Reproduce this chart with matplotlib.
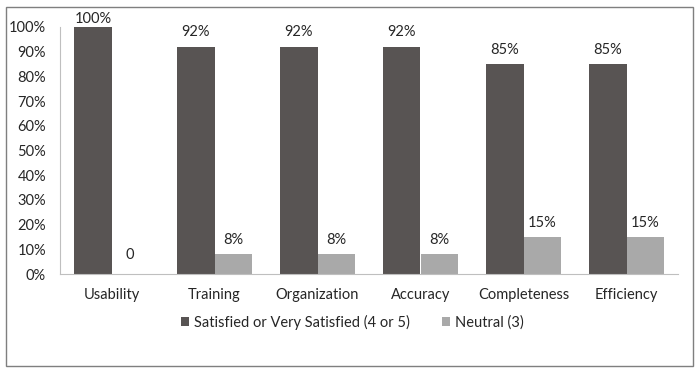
import matplotlib
matplotlib.use("Agg")
import matplotlib.pyplot as plt
import numpy as np
from matplotlib.patches import Rectangle

categories = ["Usability", "Training", "Organization", "Accuracy", "Completeness", "Efficiency"]
satisfied = [100, 92, 92, 92, 85, 85]
neutral = [0, 8, 8, 8, 15, 15]
satisfied_labels = ["100%", "92%", "92%", "92%", "85%", "85%"]
neutral_labels = ["0", "8%", "8%", "8%", "15%", "15%"]
series_names = ["Satisfied or Very Satisfied (4 or 5)", "Neutral (3)"]

dark = "#585453"
light = "#a9a9a9"
text_color = "#262626"
fs = 10.5

plt.rcParams["font.family"] = ["Lato", "DejaVu Sans"]

fig = plt.figure(figsize=(7.0, 3.73), dpi=100)
# outer frame
fig.patches.append(Rectangle((6 / 700, 7 / 373), 687 / 700, 359 / 373,
                             transform=fig.transFigure, fill=False,
                             edgecolor="#7f7f7f", linewidth=1.0))

ax = fig.add_axes([60 / 700, (373 - 274) / 373, 618 / 700, 247 / 373])

x = np.arange(len(categories))
w = 0.36
ax.bar(x - w / 2, satisfied, w, color=dark, label=series_names[0])
ax.bar(x + w / 2, neutral, w, color=light, label=series_names[1])

for i in range(len(categories)):
    off_s = 0.3 if satisfied[i] >= 100 else 3
    ax.text(x[i] - w / 2, satisfied[i] + off_s, satisfied_labels[i],
            ha="center", va="bottom", fontsize=fs, color=text_color)
    off_n = 5 if neutral[i] == 0 else 3
    ax.text(x[i] + w / 2, neutral[i] + off_n, neutral_labels[i],
            ha="center", va="bottom", fontsize=fs, color=text_color)

ax.set_xlim(-0.5, len(categories) - 0.5)
ax.set_ylim(0, 100)
ax.set_yticks(np.arange(0, 101, 10))
ax.set_yticklabels([f"{v}%" for v in range(0, 101, 10)])
ax.set_xticks(x)
ax.set_xticklabels(categories)
ax.tick_params(axis="both", length=0, labelsize=fs, colors=text_color)
ax.tick_params(axis="y", pad=10)
ax.tick_params(axis="x", pad=10)

for s in ["top", "right"]:
    ax.spines[s].set_visible(False)
ax.spines["left"].set_color("#bfbfbf")
ax.spines["bottom"].set_color("#bfbfbf")

leg = fig.legend(loc="center", bbox_to_anchor=(352 / 700, (373 - 322) / 373),
                 ncol=2, frameon=False, fontsize=fs, handlelength=0.6,
                 handleheight=0.6, handletextpad=0.3, columnspacing=2.2)
for t in leg.get_texts():
    t.set_color(text_color)

fig.savefig("out.png", dpi=100)
